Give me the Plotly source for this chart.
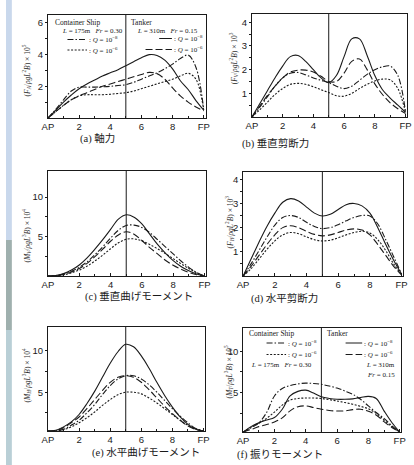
import plotly.graph_objects as go

W, H = 414, 465


def px(x):
    return x / W


def py(y):
    return 1 - y / H


# ---------------- data (stations along ship length, AP = 0, FP = 10) ----------------
stations = [0, 0.5, 1, 1.5, 2, 2.5, 3, 3.5, 4, 4.5, 5, 5.5, 6, 6.5, 7, 7.5, 8, 8.5, 9, 9.5, 10]
x_tickvals = [0, 2, 4, 6, 8, 10]
x_ticktext = ["AP", "2", "4", "6", "8", "FP"]

# (a) axial force
a_tanker_q8 = [0, 0.5, 1.0, 1.45, 1.85, 2.15, 2.4, 2.65, 2.85, 3.05, 3.3, 3.55, 3.8, 4.0, 3.95, 3.65, 3.1, 2.35, 1.8, 1.1, 0.5]
a_tanker_q6 = [0, 0.4, 0.8, 1.15, 1.4, 1.6, 1.8, 2.0, 2.15, 2.3, 2.45, 2.6, 2.75, 2.88, 2.8, 2.45, 1.9, 1.4, 1.0, 0.7, 0.45]
a_cont_q8 = [0, 0.55, 1.15, 1.7, 1.95, 1.95, 1.95, 1.97, 2.0, 2.05, 2.1, 2.25, 2.45, 2.65, 2.85, 3.1, 3.4, 3.75, 3.97, 3.2, 0.55]
a_cont_q6 = [0, 0.4, 0.8, 1.15, 1.4, 1.47, 1.47, 1.47, 1.5, 1.55, 1.6, 1.7, 1.85, 2.0, 2.15, 2.3, 2.45, 2.65, 2.82, 2.45, 0.5]

# (b) vertical shear force
b_tanker_q8 = [0, 0.55, 1.1, 1.65, 2.15, 2.55, 2.6, 2.35, 2.0, 1.65, 1.45, 1.75, 2.55, 3.3, 3.3, 2.6, 1.75, 1.15, 0.8, 0.5, 0.2]
b_tanker_q6 = [0, 0.45, 0.9, 1.3, 1.65, 1.9, 1.98, 1.98, 1.9, 1.72, 1.5, 1.5, 1.85, 2.35, 2.45, 2.0, 1.4, 0.95, 0.6, 0.35, 0.15]
b_cont_q8 = [0, 0.4, 0.85, 1.3, 1.65, 1.85, 1.88, 1.78, 1.65, 1.55, 1.45, 1.3, 1.2, 1.3, 1.55, 1.8, 2.0, 2.12, 2.15, 1.75, 0.2]
b_cont_q6 = [0, 0.3, 0.62, 0.95, 1.2, 1.38, 1.42, 1.38, 1.28, 1.15, 1.03, 0.9, 0.88, 1.0, 1.2, 1.38, 1.52, 1.6, 1.57, 1.2, 0.2]

# (c) vertical bending moment
c_tanker_q8 = [0, 0.05, 0.3, 0.75, 1.4, 2.3, 3.4, 4.6, 5.9, 7.2, 7.75, 7.45, 6.6, 5.3, 4.0, 2.9, 1.95, 1.2, 0.65, 0.25, 0]
c_tanker_q6 = [0, 0.05, 0.2, 0.5, 0.95, 1.6, 2.45, 3.4, 4.4, 5.2, 5.6, 5.3, 4.5, 3.6, 2.8, 2.0, 1.35, 0.85, 0.45, 0.15, 0]
c_cont_q8 = [0, 0.05, 0.25, 0.6, 1.1, 1.8, 2.7, 3.7, 4.8, 5.8, 6.4, 6.45, 6.15, 5.5, 4.6, 3.7, 2.8, 1.9, 1.1, 0.45, 0]
c_cont_q6 = [0, 0.03, 0.15, 0.4, 0.75, 1.25, 1.9, 2.65, 3.45, 4.2, 4.65, 4.7, 4.45, 4.0, 3.45, 2.85, 2.2, 1.55, 0.95, 0.4, 0]

# (d) horizontal shear force
d_tanker_q8 = [0, 0.7, 1.4, 2.05, 2.6, 3.05, 3.2, 3.1, 2.85, 2.6, 2.48, 2.55, 2.75, 2.95, 3.0, 2.9, 2.6, 2.0, 1.3, 0.65, 0.08]
d_tanker_q6 = [0, 0.4, 0.85, 1.3, 1.7, 2.0, 2.08, 2.0, 1.85, 1.72, 1.66, 1.7, 1.8, 1.9, 1.95, 1.9, 1.7, 1.3, 0.85, 0.4, 0.05]
d_cont_q8 = [0, 0.5, 1.05, 1.6, 2.1, 2.42, 2.5, 2.42, 2.22, 2.05, 1.96, 2.0, 2.12, 2.28, 2.42, 2.5, 2.48, 2.15, 1.5, 0.8, 0.08]
d_cont_q6 = [0, 0.3, 0.7, 1.1, 1.45, 1.7, 1.8, 1.75, 1.62, 1.5, 1.45, 1.48, 1.58, 1.7, 1.8, 1.85, 1.78, 1.5, 1.05, 0.5, 0.05]

# (e) horizontal bending moment
e_tanker_q8 = [0.3, 0.4, 0.8, 1.4, 2.3, 3.6, 5.1, 6.8, 8.5, 9.9, 10.8, 10.5, 9.4, 7.9, 6.2, 4.6, 3.2, 2.0, 1.1, 0.5, 0.3]
e_tanker_q6 = [0.3, 0.35, 0.7, 1.3, 2.0, 3.0, 4.1, 5.2, 6.2, 6.8, 7.0, 6.8, 6.2, 5.3, 4.3, 3.3, 2.4, 1.6, 0.9, 0.5, 0.3]
e_cont_q8 = [0.3, 0.3, 0.5, 1.0, 1.6, 2.5, 3.5, 4.7, 5.8, 6.6, 7.0, 7.0, 6.6, 5.9, 5.0, 4.0, 3.0, 2.1, 1.3, 0.6, 0.3]
e_cont_q6 = [0.3, 0.3, 0.45, 0.8, 1.3, 1.9, 2.6, 3.4, 4.1, 4.7, 5.0, 5.0, 4.8, 4.3, 3.7, 3.0, 2.3, 1.6, 1.0, 0.6, 0.3]

# (f) torsional moment
f_tanker_q8 = [0.25, 0.9, 1.35, 1.7, 2.0, 3.0, 4.6, 5.15, 5.3, 4.95, 4.5, 4.3, 4.2, 4.2, 4.25, 4.4, 4.55, 4.3, 2.8, 1.4, 0.25]
f_tanker_q6 = [0.25, 0.55, 0.9, 1.15, 1.45, 1.95, 2.8, 3.3, 3.4, 3.2, 3.0, 2.85, 2.78, 2.8, 2.95, 3.0, 2.75, 2.3, 1.5, 0.8, 0.25]
f_cont_q8 = [0.25, 0.75, 1.35, 2.6, 4.6, 5.5, 5.85, 6.05, 6.15, 6.1, 6.0, 5.8, 5.55, 5.2, 4.8, 4.2, 3.4, 2.6, 1.9, 1.0, 0.25]
f_cont_q6 = [0.25, 0.8, 1.3, 1.9, 2.65, 3.5, 4.1, 4.3, 4.35, 4.35, 4.3, 4.15, 4.0, 3.8, 3.6, 3.35, 3.05, 2.5, 1.7, 0.9, 0.25]

captions = ["(a) 軸力", "(b) 垂直剪断力", "(c) 垂直曲げモーメント",
            "(d) 水平剪断力", "(e) 水平曲げモーメント", "(f) 振りモーメント"]
y_titles = [
    "(<i>F<sub>A</sub></i>/<i>ρgL</i><sup>2</sup><i>B</i>) × 10<sup>5</sup>",
    "(<i>F<sub>V</sub></i>/<i>ρgL</i><sup>2</sup><i>B</i>) × 10<sup>3</sup>",
    "(<i>M<sub>V</sub></i>/<i>ρgL</i><sup>3</sup><i>B</i>) × 10<sup>4</sup>",
    "(<i>F<sub>H</sub></i>/<i>ρgL</i><sup>2</sup><i>B</i>) × 10<sup>3</sup>",
    "(<i>M<sub>H</sub></i>/<i>ρgL</i><sup>3</sup><i>B</i>) × 10<sup>4</sup>",
    "(<i>M<sub>T</sub></i>/<i>ρgL</i><sup>3</sup><i>B</i>) × 10<sup>5</sup>",
]
y_ticks = [[2, 4, 6], [1, 2, 3, 4], [5, 10], [1, 2, 3, 4], [5, 10], [5, 10]]
y_minor = [[1, 3, 5], [0.5, 1.5, 2.5, 3.5], [2.5, 7.5], [0.5, 1.5, 2.5, 3.5], [2.5, 7.5], [2.5, 7.5]]
y_ranges = [[0, 6.5], [0, 4.35], [0, 13.3], [0, 4.3], [0.3, 12.9], [0.25, 12.8]]
x_ranges = [[0, 10.15], [0, 10.1], [0, 10.1], [0, 10.1], [0, 10.1], [0, 10.1]]

panels = [
    (a_tanker_q8, a_tanker_q6, a_cont_q8, a_cont_q6),
    (b_tanker_q8, b_tanker_q6, b_cont_q8, b_cont_q6),
    (c_tanker_q8, c_tanker_q6, c_cont_q8, c_cont_q6),
    (d_tanker_q8, d_tanker_q6, d_cont_q8, d_cont_q6),
    (e_tanker_q8, e_tanker_q6, e_cont_q8, e_cont_q6),
    (f_tanker_q8, f_tanker_q6, f_cont_q8, f_cont_q6),
]

# ---------------- layout geometry (pixels) ----------------
boxes = [  # left, right, top, bottom
    (43, 205, 15, 118),
    (252, 411, 14, 117),
    (43, 205, 171, 276),
    (243, 407, 172, 276),
    (43, 204, 327, 431),
    (243, 405, 328, 432),
]
caption_pos = [(94, 138), (276, 143), (136, 296), (285, 298), (143, 453), (281, 454)]
ytitle_pos = [(22, 70), (233, 58), (21, 235), (229, 222), (21, 375), (228, 371)]

INK = "#1a1a1a"
dash_styles = ["solid", "7px,3px", "6px,2px,1.5px,2px", "2px,1.6px"]
LW = 1.1

fig = go.Figure()
layout = dict(width=W, height=H, margin=dict(l=0, r=0, t=0, b=0),
              paper_bgcolor="white", plot_bgcolor="white", showlegend=False)

shapes = []
annotations = []

for i, (series, box) in enumerate(zip(panels, boxes)):
    n = "" if i == 0 else str(i + 1)
    l, r, t, b = box
    layout["xaxis" + n] = dict(
        domain=[px(l), px(r)], range=x_ranges[i], anchor="y" + n,
        tickvals=x_tickvals, ticktext=x_ticktext, ticks="inside", ticklen=3,
        tickcolor=INK, minor=dict(tickvals=[1, 3, 5, 7, 9], ticks="inside", ticklen=2, tickcolor=INK),
        showline=True, linecolor=INK, linewidth=1, mirror=True, showgrid=False, zeroline=False,
        tickfont=dict(family="Liberation Sans", size=9.5, color=INK), fixedrange=True,
    )
    layout["yaxis" + n] = dict(
        domain=[py(b), py(t)], range=y_ranges[i], anchor="x" + n,
        tickvals=y_ticks[i], ticks="outside", ticklen=2, tickcolor=INK,
        minor=dict(tickvals=y_minor[i], ticks="outside", ticklen=2, tickcolor=INK),
        showline=True, linecolor=INK, linewidth=1, mirror=True, showgrid=False, zeroline=False,
        tickfont=dict(family="Liberation Sans", size=9.5, color=INK), fixedrange=True,
    )
    for s, dash in zip(series, dash_styles):
        fig.add_trace(go.Scatter(x=stations, y=s, mode="lines", xaxis="x" + n, yaxis="y" + n,
                                 line=dict(color=INK, width=LW, dash=dash, shape="spline", smoothing=1.0),
                                 hoverinfo="skip"))
    # midship line
    shapes.append(dict(type="line", xref="x" + n, yref="y" + n + " domain", x0=5, x1=5, y0=0, y1=1,
                       line=dict(color=INK, width=1)))
    cx, cy = caption_pos[i]
    annotations.append(dict(text=captions[i], x=px(cx), y=py(cy), xref="paper", yref="paper",
                            showarrow=False, xanchor="center", yanchor="middle",
                            font=dict(family="Liberation Serif, Noto Sans CJK JP", size=10.5, color=INK)))
    tx, ty = ytitle_pos[i]
    annotations.append(dict(text=y_titles[i], x=px(tx), y=py(ty), xref="paper", yref="paper",
                            showarrow=False, textangle=-90, xanchor="center", yanchor="middle",
                            font=dict(family="Liberation Serif", size=7.5, color="#333")))


def legend_text(text, x, y, anchor="left", size=7):
    annotations.append(dict(text=text, x=px(x), y=py(y), xref="paper", yref="paper", showarrow=False,
                            xanchor=anchor, yanchor="middle",
                            font=dict(family="Liberation Serif", size=size, color=INK)))


def legend_line(x0, x1, y, dash):
    shapes.append(dict(type="line", xref="paper", yref="paper", x0=px(x0), x1=px(x1), y0=py(y), y1=py(y),
                       line=dict(color=INK, width=1, dash=dash)))


q8 = ": <i>Q</i> = 10<sup>−8</sup>"
q6 = ": <i>Q</i> = 10<sup>−6</sup>"

# legend in (a)
legend_text("Container Ship", 48, 22, size=7.5)
legend_text("<i>L</i> = 175m   <i>Fr</i> = 0.30", 55, 31)
legend_line(63, 83, 39.5, dash_styles[2]); legend_text(q8, 83, 39.5)
legend_line(63, 83, 50, dash_styles[3]); legend_text(q6, 83, 50)
legend_text("Tanker", 126, 22, size=7.5)
legend_text("<i>L</i> = 310m   <i>Fr</i> = 0.15", 132, 31)
legend_line(157, 170, 38.5, dash_styles[0]); legend_text(q8, 170, 38.5)
legend_line(143, 170, 49.5, dash_styles[1]); legend_text(q6, 170, 49.5)

# legend in (f)
legend_text("Container Ship", 247, 333, size=7.5)
legend_line(267, 287, 343, dash_styles[2]); legend_text(q8, 287, 343)
legend_line(267, 287, 354.5, dash_styles[3]); legend_text(q6, 287, 354.5)
legend_text("<i>L</i> = 175m   <i>Fr</i> = 0.30", 249, 365)
legend_text("Tanker", 327, 333, size=7.5)
legend_line(348, 365, 343, dash_styles[0]); legend_text(q8, 365, 343)
legend_line(348, 365, 354.5, dash_styles[1]); legend_text(q6, 365, 354.5)
legend_text("<i>L</i> = 310m", 401, 365, anchor="right")
legend_text("<i>Fr</i> = 0.15", 401, 374.5, anchor="right")

# scanned page edge on the left
shapes.append(dict(type="rect", xref="paper", yref="paper", x0=0, x1=px(6), y0=py(240), y1=1,
                   fillcolor="#c9d8ec", line=dict(width=0), layer="below"))
shapes.append(dict(type="rect", xref="paper", yref="paper", x0=0, x1=px(6), y0=py(330), y1=py(240),
                   fillcolor="#9fb0ae", line=dict(width=0), layer="below"))
shapes.append(dict(type="rect", xref="paper", yref="paper", x0=0, x1=px(6), y0=0, y1=py(330),
                   fillcolor="#b9cfd6", line=dict(width=0), layer="below"))

layout["shapes"] = shapes
layout["annotations"] = annotations
fig.update_layout(**layout)
fig.write_html("out.html", config={"displayModeBar": False},
               post_script="document.body.style.margin='0px';document.body.style.padding='0px';")
